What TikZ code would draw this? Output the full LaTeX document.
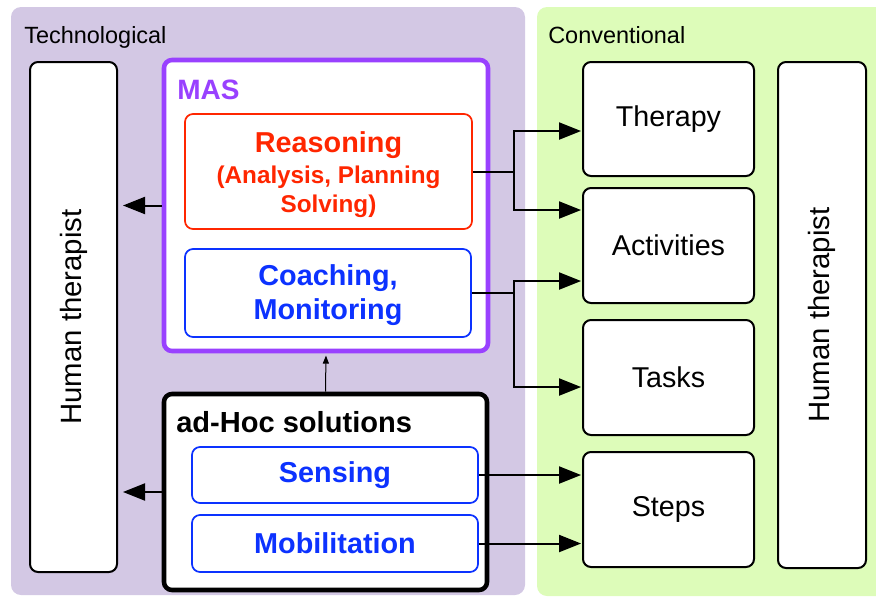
\documentclass[tikz,border=0pt]{standalone}
\usepackage{fontspec}
\setmainfont{Liberation Sans}
\usetikzlibrary{arrows.meta,calc}
\definecolor{techbg}{RGB}{211,200,228}
\definecolor{convbg}{RGB}{221,252,185}
\definecolor{maspurple}{RGB}{153,65,255}
\definecolor{reasred}{RGB}{255,38,0}
\definecolor{cblue}{RGB}{12,50,255}
\def\pxu{0.75pt}
\begin{document}
\begin{tikzpicture}[x=0.75pt,y=-0.75pt,
  box/.style={draw, line width=1.5pt, rounded corners=6pt, fill=white, inner sep=0pt},
  conv/.style={box, minimum width=171*\pxu, minimum height=115*\pxu, font=\fontsize{21.5}{26}\selectfont},
  big/.style={draw, line width=3.4pt, rounded corners=6pt, fill=white, inner sep=0pt},
  inner/.style={box, line width=1.3pt, text=#1, draw=#1, align=center},
  bold/.style={font=\bfseries\fontsize{21.6}{25.5}\selectfont},
  human/.style={rotate=90, font=\fontsize{22}{26}\selectfont},
  panellbl/.style={anchor=base west, inner sep=0pt, font=\fontsize{17.6}{20}\selectfont},
  line/.style={line width=1.5pt},
  arr/.style={-{Triangle[length=16.5pt,width=12.75pt]}, line width=1.5pt, shorten >=0.7pt},
  thinarr/.style={-{Triangle[length=6pt,width=4.5pt]}, line width=0.75pt, shorten >=1.7pt}
]
\useasboundingbox (0,0) rectangle (876,597);
\clip (0,0) rectangle (876,597);
% panels
\fill[techbg, rounded corners=7.5pt] (11,7) rectangle (525,595);
\fill[convbg, rounded corners=7.5pt] (537,7) rectangle (900,596);
\node[panellbl] (techlbl) at (24,43) {Technological};
\node[panellbl] (convlbl) at (548,43) {Conventional};
% left human therapist
\node[box, minimum width=87*\pxu, minimum height=510*\pxu] (hl) at (73.5,317) {};
\node[human] (hltxt) at (hl.center) {Human therapist};
% MAS
\node[big, draw=maspurple, minimum width=324*\pxu, minimum height=291*\pxu] (mas) at (326,205.5) {};
\node[anchor=west, inner sep=0pt, text=maspurple, font=\bfseries\fontsize{21}{25}\selectfont] (maslbl) at (177,89.5) {MAS};
\node[inner=reasred, minimum width=287*\pxu, minimum height=115*\pxu, font=\bfseries\fontsize{18.2}{21.5}\selectfont] (reas) at (328.5,171.5)
  {{\fontsize{21.6}{21}\selectfont\rule{0pt}{20.3pt}Reasoning}\\[2.25pt](Analysis, Planning\\Solving)};
\node[inner=cblue, bold, minimum width=286*\pxu, minimum height=88*\pxu] (coach) at (328,293) {\rule{0pt}{18.8pt}Coaching,\\Monitoring};
% ad-Hoc
\node[big, draw=black, minimum width=323*\pxu, minimum height=196*\pxu] (adhoc) at (325.5,492) {};
\node[anchor=west, inner sep=0pt, font=\bfseries\fontsize{21.8}{25}\selectfont] (adhoclbl) at (176,422) {ad-Hoc solutions};
\node[inner=cblue, bold, minimum width=286*\pxu, minimum height=56*\pxu] (sens) at (335,475) {Sensing};
\node[inner=cblue, bold, minimum width=286*\pxu, minimum height=57*\pxu] (mob) at (335,543.5) {Mobilitation};
% conventional boxes
\node[conv, minimum height=114*\pxu] (ther) at (668.5,119) {Therapy};
\node[conv] (act) at (668.5,245.5) {Activities};
\node[conv] (tasks) at (668.5,377.5) {Tasks};
\node[conv] (steps) at (668.5,509.5) {Steps};
% right human therapist
\node[box, minimum width=88*\pxu, minimum height=506*\pxu] (hr) at (822,315) {};
\node[human] (hrtxt) at (hr.center) {Human therapist};
% connectors
\coordinate (j1) at (514,171.5);
\coordinate (j2) at (514,293);
\draw[line] (reas.east) -- (j1);
\draw[arr] (j1) |- ($(ther.west)+(0,12)$);
\draw[arr] (j1) |- ($(act.west)+(0,-35.5)$);
\draw[line] (coach.east) -- (j2);
\draw[arr] (j2) |- ($(act.west)+(0,35.5)$);
\draw[arr] (j2) |- ($(tasks.west)+(0,9.5)$);
\draw[arr] (sens.east) -- (sens.east -| steps.west);
\draw[arr] (mob.east) -- (mob.east -| steps.west);
\draw[arr, shorten >=3.75pt] (mas.west) -- (mas.west -| hl.east);
\draw[arr, shorten >=3.75pt] (adhoc.west) -- (adhoc.west -| hl.east);
\draw[thinarr] (adhoc.north) -- (mas.south);
\end{tikzpicture}
\end{document}
